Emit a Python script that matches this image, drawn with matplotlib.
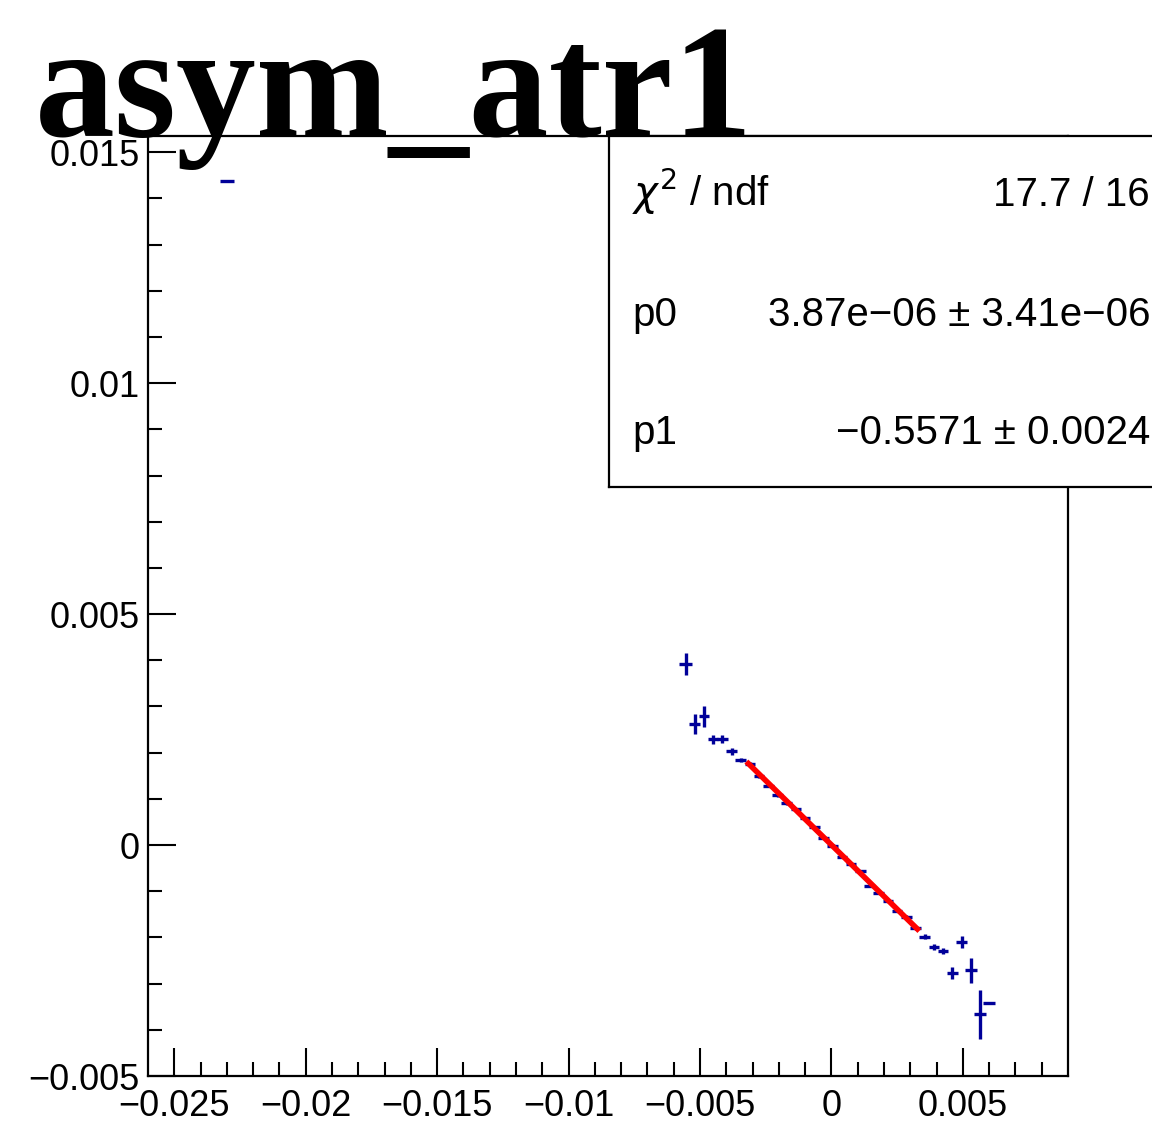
import matplotlib.pyplot as plt
import numpy as np

plt.rcParams['font.family'] = ['Liberation Sans', 'DejaVu Sans']
plt.rcParams['axes.unicode_minus'] = True

# profile points (bin centre, mean, errors)
x_vals = [-0.0230,
          -0.00555, -0.00520, -0.00485, -0.00450, -0.00415, -0.00380, -0.00345,
          -0.00310, -0.00275, -0.00240, -0.00205, -0.00170, -0.00135, -0.00100,
          -0.00065, -0.00030, 0.00005, 0.00040, 0.00075, 0.00110, 0.00145,
          0.00180, 0.00215, 0.00250, 0.00285, 0.00320, 0.00355, 0.00390,
          0.00425, 0.00460, 0.00495, 0.00530, 0.00565, 0.00600]
y_vals = [0.01437,
          0.00392, 0.00262, 0.00279, 0.00229, 0.00229, 0.00203, 0.00184,
          0.00175, 0.00150, 0.00128, 0.00108, 0.00090, 0.00077, 0.00058,
          0.00038, 0.00015, -0.00001, -0.00026, -0.00040, -0.00056, -0.00088,
          -0.00103, -0.00121, -0.00142, -0.00156, -0.00180, -0.00198, -0.00221,
          -0.00229, -0.00277, -0.00210, -0.00271, -0.00366, -0.00342]
y_errs = [0.0,
          0.00024, 0.00022, 0.00023, 0.00010, 0.00009, 0.00007, 0.00005,
          0.00004, 0.00004, 0.00003, 0.00003, 0.00003, 0.00003, 0.00003,
          0.00003, 0.00003, 0.00003, 0.00003, 0.00003, 0.00003, 0.00003,
          0.00003, 0.00003, 0.00004, 0.00004, 0.00005, 0.00005, 0.00006,
          0.00007, 0.00012, 0.00013, 0.00027, 0.00053, 0.00002]
x_errs = [0.00026,
          0.00026, 0.00020, 0.00020, 0.00020, 0.00020, 0.00020, 0.00020,
          0.00020, 0.00020, 0.00020, 0.00020, 0.00020, 0.00020, 0.00020,
          0.00020, 0.00020, 0.00020, 0.00020, 0.00020, 0.00020, 0.00020,
          0.00020, 0.00020, 0.00020, 0.00020, 0.00020, 0.00020, 0.00020,
          0.00020, 0.00022, 0.00022, 0.00022, 0.00022, 0.00024]

# pol1 fit result
p0 = 3.87e-06
p1 = -0.5571
fit_range = (-0.00316, 0.00327)
stat_labels = ['$\\chi^{2}$ / ndf', 'p0', 'p1']
stat_values = ['17.7 / 16', '3.87e\u221206 \u00b1 3.41e\u221206', '\u22120.5571 \u00b1 0.0024']

W, H = 1152, 1144
fig = plt.figure(figsize=(W / 100, H / 100), dpi=100)
fig.set_facecolor('white')

ax = fig.add_axes([148 / W, 1 - 1076 / H, (1068 - 148) / W, (1076 - 136) / H])
ax.errorbar(x_vals, y_vals, xerr=x_errs, yerr=y_errs, fmt='none',
            ecolor='#000099', elinewidth=2.4, capsize=0, zorder=2)

fx = np.linspace(fit_range[0], fit_range[1], 50)
ax.plot(fx, p0 + p1 * fx, color='red', lw=4, zorder=3)

ax.set_xlim(-0.026, 0.009)
ax.set_ylim(-0.005, 0.01535)
ax.set_xticks([-0.025, -0.02, -0.015, -0.01, -0.005, 0, 0.005])
ax.set_xticklabels(['\u22120.025', '\u22120.02', '\u22120.015', '\u22120.01', '\u22120.005', '0', '0.005'])
ax.set_yticks([-0.005, 0, 0.005, 0.01, 0.015])
ax.set_yticklabels(['\u22120.005', '0', '0.005', '0.01', '0.015'])
ax.set_xticks(np.arange(-0.025, 0.0085, 0.001), minor=True)
ax.set_yticks(np.arange(-0.005, 0.0151, 0.001), minor=True)
ax.tick_params(which='both', direction='in', width=1.5, labelsize=26, colors='black')
ax.tick_params(which='major', length=20)
ax.tick_params(which='minor', length=10)
ax.tick_params(axis='y', pad=6)
ax.tick_params(axis='x', pad=9)
for s in ax.spines.values():
    s.set_linewidth(1.6)

# stats box
box = fig.add_axes([609 / W, 1 - 487 / H, 0.5, (487 - 136) / H], zorder=5)
box.set_facecolor('white')
box.set_xticks([])
box.set_yticks([])
for s in box.spines.values():
    s.set_linewidth(1.6)

row_y = [206, 326, 444]
for lab, val, yy in zip(stat_labels, stat_values, row_y):
    fig.text(632 / W, 1 - yy / H, lab, fontsize=29, ha='left', va='baseline', zorder=6)
    fig.text(1150 / W, 1 - yy / H, val, fontsize=29, ha='right', va='baseline', zorder=6)

fig.text(35 / W, 1 - 136 / H, 'asym_atr1', fontsize=115, fontweight='bold',
         family='Liberation Serif', ha='left', va='baseline', zorder=10)

fig.savefig('out.png', dpi=100)
